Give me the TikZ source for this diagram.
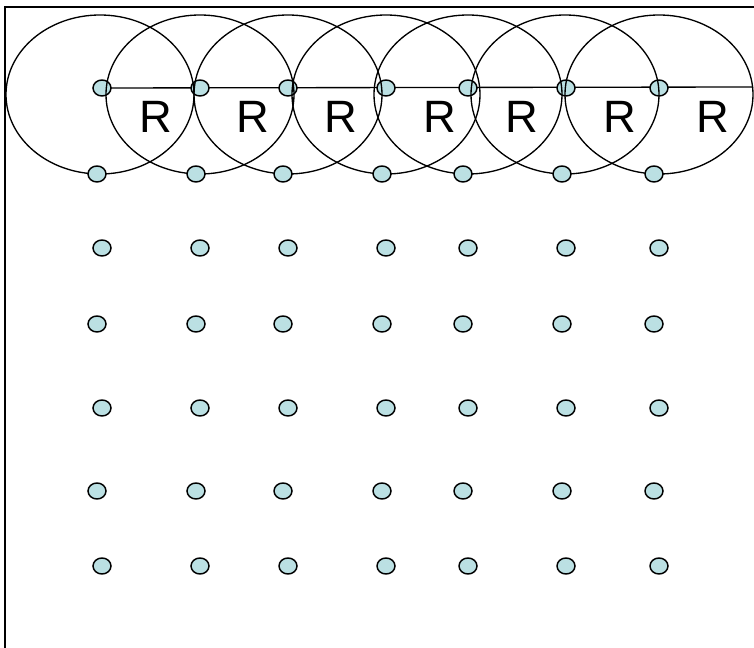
\documentclass[tikz,border=0pt]{standalone}
\usepackage{fontspec}
\setmainfont{Liberation Sans}
\usetikzlibrary{shapes.geometric}
\definecolor{dotfill}{RGB}{187,224,227}
\pgfdeclarelayer{background}
\pgfsetlayers{background,main}
\begin{document}
\begin{tikzpicture}[x=0.75pt,y=-0.75pt,
  dot/.style={ellipse,draw=black,line width=1.1pt,fill=dotfill,minimum width=13.5pt,minimum height=12pt,inner sep=0pt},
  ring/.style={draw=black,line width=1pt},
  frameline/.style={draw=black,line width=1.5pt},
  rlabel/.style={font=\fontsize{34}{40}\selectfont,inner sep=0pt}]
\useasboundingbox (0,0) rectangle (754,648);
% frame
\coordinate (fa) at (754,7);
\coordinate (fb) at (5,7);
\coordinate (fc) at (5,648);
\draw[frameline] (fa) -- (fb) -- (fc);
% top row of dots (circle centres)
\foreach \x [count=\i] in {102,200,288,386,468,566,659}
  \node[dot] (t\i) at (\x,88) {};
% radius line
\coordinate (lineend) at (753,87);
\begin{pgfonlayer}{background}
  \draw[ring] (t1.center) -- (lineend);
\end{pgfonlayer}
% circles
\foreach \cx in {100,200,288,386,468,565,659}
  \draw[ring] (\cx,94.5) ellipse [x radius=94,y radius=79.5];
% R labels
\foreach \x [count=\i] in {156,253,341,440,522,620,713}
  \node[rlabel] (r\i) at (\x,117) {R};
% bottom row on the circles
\foreach \x [count=\i] in {97,196,283,382,463,562,654}
  \node[dot] (b\i) at (\x,174) {};
% grid
\foreach \x [count=\i] in {102,200,288,386,468,566,659} {
  \node[dot] (ga\i) at (\x,248) {};
  \node[dot] (gc\i) at (\x,408) {};
  \node[dot] (ge\i) at (\x,566) {};
}
\foreach \x [count=\i] in {97,196,283,382,463,562,654} {
  \node[dot] (gb\i) at (\x,324) {};
  \node[dot] (gd\i) at (\x,491) {};
}
\end{tikzpicture}
\end{document}
